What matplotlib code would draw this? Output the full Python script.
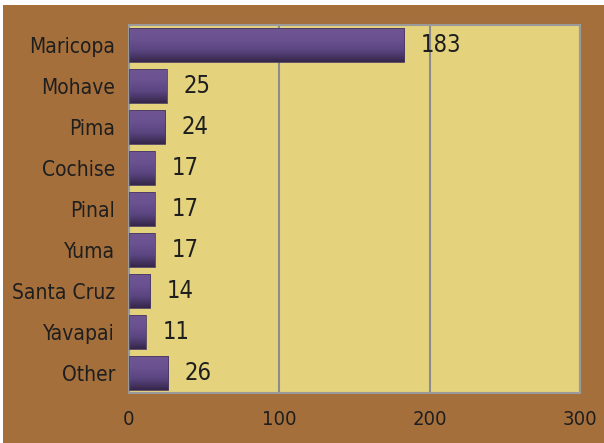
import numpy as np
import matplotlib
matplotlib.use("Agg")
import matplotlib.pyplot as plt
from matplotlib.patches import Rectangle

counties = ["Maricopa", "Mohave", "Pima", "Cochise", "Pinal", "Yuma", "Santa Cruz", "Yavapai", "Other"]
counts = [183, 25, 24, 17, 17, 17, 14, 11, 26]
xticks = [0, 100, 200, 300]

brown = "#A56F3C"
khaki = "#E4D37C"
grid_col = "#8C8C8C"
text_col = "#1E1E1E"

plt.rcParams["font.stretch"] = "condensed"

fig = plt.figure(figsize=(6.04, 4.43), dpi=100, facecolor="white")
fig.patches.append(Rectangle((3 / 604, 0), 1, 1 - 5 / 443, transform=fig.transFigure,
                             facecolor=brown, edgecolor="none", zorder=-10))

ax = fig.add_axes([129 / 604, 1 - 393 / 443, 451 / 604, 368 / 443])
ax.set_facecolor(khaki)

y = np.arange(len(counties))
bars = ax.barh(y, counts, height=0.83, color="none", edgecolor="#4A3A60", linewidth=0.6, zorder=3)

# vertical gradient inside each bar
grad = np.linspace(0, 1, 100).reshape(-1, 1)
cmap = matplotlib.colors.LinearSegmentedColormap.from_list(
    "bar", ["#6F5592", "#6A5190", "#5A4580", "#35264A"])
for b in bars:
    x0, y0 = b.get_x(), b.get_y()
    w, h = b.get_width(), b.get_height()
    im = ax.imshow(grad, cmap=cmap, aspect="auto", extent=(x0, x0 + w, y0 + h, y0),
                   origin="upper", zorder=2)
    im.set_clip_path(b)

for yi, v in zip(y, counts):
    ax.annotate(str(v), (v, yi), xytext=(12, 0), textcoords="offset points",
                va="center", ha="left", fontsize=17, color=text_col, zorder=4)

ax.set_xlim(0, 300)
ax.set_ylim(len(counties) - 0.5, -0.5)
ax.set_xticks(xticks)
ax.set_yticks(y)
ax.set_yticklabels(counties, fontsize=15)
ax.tick_params(axis="both", length=0, colors=text_col)
ax.tick_params(axis="x", labelsize=14.5, pad=12)
ax.tick_params(axis="y", pad=10)
ax.xaxis.grid(True, color=grid_col, linewidth=1.5, zorder=1)
ax.set_axisbelow(True)
for s in ax.spines.values():
    s.set_color("#9A9A9A")
    s.set_linewidth(1.5)

fig.savefig("out.png", dpi=100, facecolor=fig.get_facecolor())
